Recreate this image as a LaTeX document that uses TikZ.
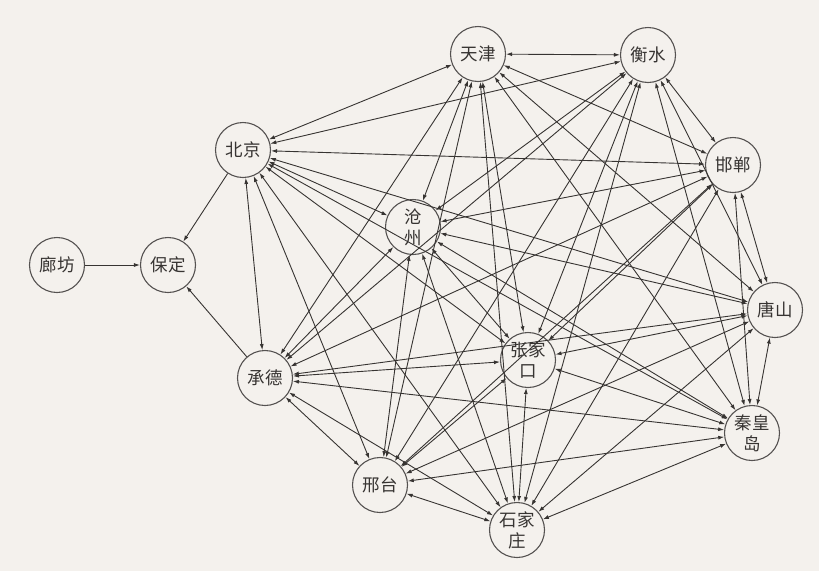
\documentclass[tikz,border=0pt]{standalone}
\usepackage{fontspec}
\newfontfamily\cjk{Noto Sans CJK SC}
\usetikzlibrary{arrows.meta}
\definecolor{bgpaper}{RGB}{244,241,237}
\definecolor{ink}{RGB}{55,52,50}
\begin{document}
\begin{tikzpicture}[x=1pt,y=-1pt,
 city/.style={circle,draw=ink!85,line width=1.1pt,minimum size=55pt,inner sep=0pt,font=\cjk\fontsize{17.5}{21}\selectfont,align=center,text=ink},
 link/.style={draw=ink,line width=0.9pt,{Latex[length=6pt,width=4pt]}-{Latex[length=6pt,width=4pt]}},
 one/.style={draw=ink,line width=0.9pt,-{Latex[length=6pt,width=4pt]}}]
\fill[bgpaper] (0,0) rectangle (819,571);
\useasboundingbox (0,0) rectangle (819,571);
\node[city] (lf) at (57,265) {廊坊};
\node[city] (bd) at (168,265) {保定};
\node[city] (bj) at (243,150) {北京};
\node[city] (tj) at (478,54) {天津};
\node[city] (hs) at (648,55) {衡水};
\node[city] (hd) at (733,165) {邯郸};
\node[city] (cz) at (413,227) {沧\\州};
\node[city] (ts) at (775,310) {唐山};
\node[city] (zjk) at (528,360) {张家\\口};
\node[city] (cd) at (265,378) {承德};
\node[city] (qhd) at (752,433) {秦皇\\岛};
\node[city] (xt) at (380,485) {邢台};
\node[city] (sjz) at (517,530) {石家\\庄};
\foreach \a/\b in {bj/tj,bj/hs,bj/hd,bj/cz,bj/ts,bj/zjk,bj/cd,bj/qhd,bj/xt,bj/sjz,
 tj/hs,tj/hd,tj/cz,tj/ts,tj/zjk,tj/cd,tj/qhd,tj/xt,tj/sjz,
 hs/hd,hs/cz,hs/ts,hs/zjk,hs/cd,hs/qhd,hs/xt,hs/sjz,
 hd/cz,hd/ts,hd/zjk,hd/cd,hd/qhd,hd/xt,hd/sjz,
 cz/ts,cz/zjk,cz/cd,cz/qhd,cz/xt,cz/sjz,
 ts/zjk,ts/cd,ts/qhd,ts/xt,ts/sjz,
 zjk/cd,zjk/qhd,zjk/xt,zjk/sjz,
 cd/qhd,cd/xt,cd/sjz,
 qhd/xt,qhd/sjz,
 xt/sjz}
 \draw[link] (\a) -- (\b);
\draw[one] (lf) -- (bd);
\draw[one] (bj) -- (bd);
\draw[one] (cd) -- (bd);
\end{tikzpicture}
\end{document}
